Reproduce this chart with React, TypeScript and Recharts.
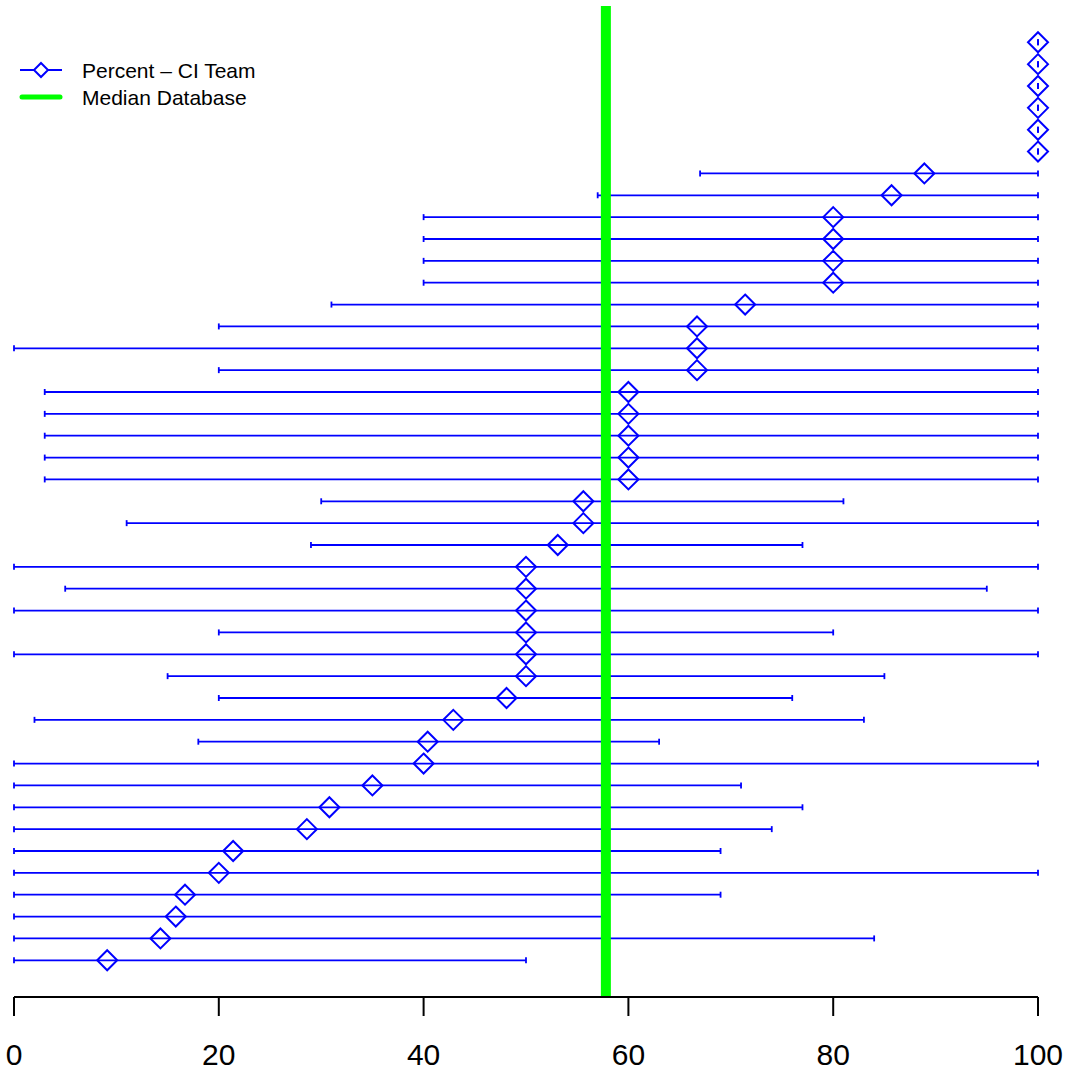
import React from "react";
import {
  ScatterChart,
  Scatter,
  XAxis,
  YAxis,
  ErrorBar,
  ReferenceLine,
} from "recharts";

// rows listed bottom to top
const percent = [
  9.1, 14.3, 15.8, 16.7, 20, 21.4, 28.6, 30.8, 35, 40, 40.4, 42.9, 48.1,
  50, 50, 50, 50, 50, 50, 53.1, 55.6, 55.6, 60, 60, 60, 60, 60, 66.7, 66.7,
  66.7, 71.4, 80, 80, 80, 80, 85.7, 88.9, 100, 100, 100, 100, 100, 100,
];
const lower = [
  0, 0, 0, 0, 0, 0, 0, 0, 0, 0, 18, 2, 20, 15, 0, 20, 0, 5, 0, 29, 11, 30,
  3, 3, 3, 3, 3, 20, 0, 20, 31, 40, 40, 40, 40, 57, 67, 100, 100, 100, 100,
  100, 100,
];
const upper = [
  50, 84, 58, 69, 100, 69, 74, 77, 71, 100, 63, 83, 76, 85, 100, 80, 100,
  95, 100, 77, 100, 81, 100, 100, 100, 100, 100, 100, 100, 100, 100, 100,
  100, 100, 100, 100, 100, 100, 100, 100, 100, 100, 100,
];
const xTicks = [0, 20, 40, 60, 80, 100];
const medianDatabase = 57.8;

const rows = percent.map((p, i) => ({
  y: i + 1,
  pct: p,
  err: [p - lower[i], upper[i] - p],
}));

const BLUE = "#0000ff";
const GREEN = "#00ff00";
const FONT = "'Liberation Sans', Arial, Helvetica, sans-serif";

const Diamond = (props: any) => {
  const { cx, cy } = props;
  const r = 10;
  return (
    <path
      d={`M${cx} ${cy - r}L${cx + r} ${cy}L${cx} ${cy + r}L${cx - r} ${cy}Z`}
      fill="none"
      stroke={BLUE}
      strokeWidth={2}
    />
  );
};

const App = () => {
  return (
    <div style={{ position: "absolute", left: 0, top: 0, width: 1079, height: 1072, background: "#fff", fontFamily: FONT }}>
      <ScatterChart width={1079} height={1072} margin={{ top: 6, right: 41, bottom: 5, left: 14 }}>
        <XAxis
          type="number"
          dataKey="pct"
          domain={[0, 100]}
          ticks={xTicks}
          height={70}
          tickSize={19}
          tickMargin={28}
          stroke="#000"
          strokeWidth={2}
          tick={{ fill: "#000", fontSize: 30, fontFamily: FONT }}
          interval={0}
        />
        <YAxis type="number" dataKey="y" domain={[-0.68, 44.66]} hide />
        <Scatter data={rows} shape={<Diamond />} isAnimationActive={false}>
          <ErrorBar dataKey="err" direction="x" width={3} stroke={BLUE} strokeWidth={1.8} isAnimationActive={false} />
        </Scatter>
        <ReferenceLine x={medianDatabase} stroke={GREEN} strokeWidth={10} />
      </ScatterChart>

      <div style={{ position: "absolute", left: 0, top: 55 }}>
        <svg width={320} height={60}>
          <line x1={20} y1={15} x2={62} y2={15} stroke={BLUE} strokeWidth={2} />
          <path d="M41 8L48 15L41 22L34 15Z" fill="#fff" stroke={BLUE} strokeWidth={2} />
          <text x={82} y={22.5} fontSize={21} fontFamily={FONT} fill="#000">
            Percent – CI Team
          </text>
          <line x1={22} y1={42} x2={60} y2={42} stroke={GREEN} strokeWidth={5} strokeLinecap="round" />
          <text x={82} y={49.5} fontSize={21} fontFamily={FONT} fill="#000">
            Median Database
          </text>
        </svg>
      </div>
    </div>
  );
};

export default App;
